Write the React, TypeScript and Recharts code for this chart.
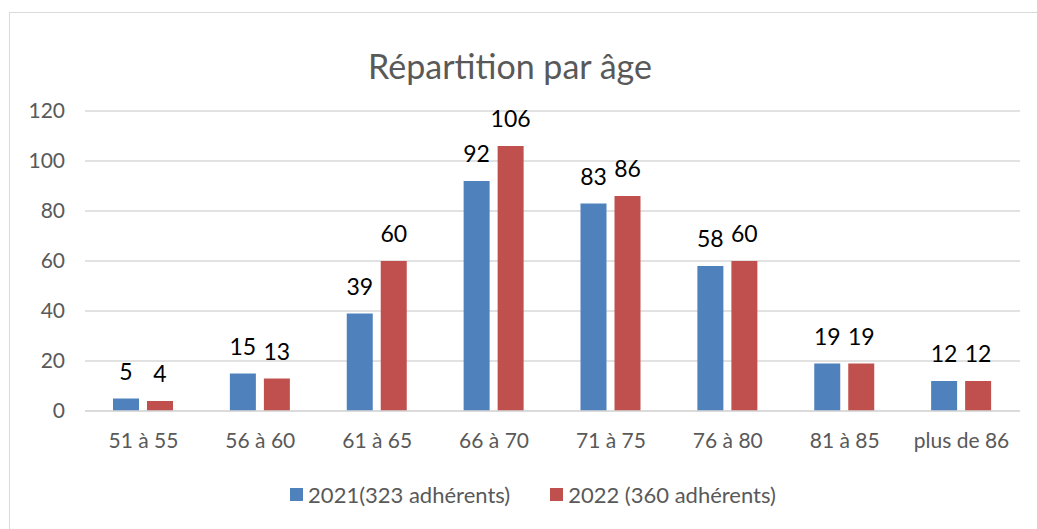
import { BarChart, Bar, XAxis, YAxis, CartesianGrid, Legend, LabelList } from 'recharts';

// Values
const ageGroups = ['51 à 55', '56 à 60', '61 à 65', '66 à 70', '71 à 75', '76 à 80', '81 à 85', 'plus de 86'];
const members2021 = [5, 15, 39, 92, 83, 58, 19, 12];
const members2022 = [4, 13, 60, 106, 86, 60, 19, 12];
const yTicks = [0, 20, 40, 60, 80, 100, 120];

const seriesNames = { a: '2021(323 adhérents)', b: '2022 (360 adhérents)' };
const colors = { a: '#4F81BD', b: '#C0504D' };

const data = ageGroups.map((age, i) => ({
  age,
  a: members2021[i],
  b: members2022[i],
}));

const font = 'Lato, "Open Sans", sans-serif';
const grey = '#595959';

function LegendBox() {
  const items = [
    { key: 'a', label: seriesNames.a, color: colors.a },
    { key: 'b', label: seriesNames.b, color: colors.b },
  ];
  return (
    <div style={{ display: 'flex', justifyContent: 'center', height: 24, alignItems: 'center', paddingLeft: 36 }}>
      {items.map((it, i) => (
        <div key={it.key} style={{ display: 'flex', alignItems: 'center', marginLeft: i ? 40 : 0 }}>
          <span style={{ width: 13, height: 13, background: it.color, display: 'inline-block', marginRight: 5 }} />
          <span style={{ fontFamily: font, fontSize: 22, color: grey }}>{it.label}</span>
        </div>
      ))}
    </div>
  );
}

export default function App() {
  return (
    <div
      style={{
        position: 'absolute',
        left: 9,
        top: 12,
        width: 1040,
        height: 530,
        border: '1px solid #d9d9d9',
        borderRight: 'none',
        background: '#fff',
      }}
    >
      <div
        style={{
          position: 'absolute',
          left: 0,
          width: 1000,
          top: 33,
          textAlign: 'center',
          fontFamily: font,
          fontSize: 34,
          color: grey,
          lineHeight: '40px',
        }}
      >
        Répartition par âge
      </div>
      <BarChart
        width={1030}
        height={510}
        data={data}
        margin={{ top: 98, right: 20, bottom: 17, left: 0 }}
        barSize={26}
        barGap={8}
      >
        <CartesianGrid vertical={false} stroke="#d9d9d9" strokeWidth={1.5} />
        <XAxis
          dataKey="age"
          height={71}
          tickLine={false}
          axisLine={{ stroke: '#d9d9d9', strokeWidth: 1.5 }}
          tickMargin={16}
          tick={{ fill: grey, fontSize: 21, fontFamily: font }}
          interval={0}
        />
        <YAxis
          width={75}
          domain={[0, 120]}
          ticks={yTicks}
          axisLine={false}
          tickLine={false}
          tickMargin={14}
          tick={{ fill: grey, fontSize: 21, fontFamily: font }}
        />
        <Legend verticalAlign="bottom" content={() => <LegendBox />} />
        <Bar dataKey="a" name={seriesNames.a} fill={colors.a} isAnimationActive={false}>
          <LabelList dataKey="a" position="top" offset={19} style={{ fill: '#000', fontSize: 23, fontFamily: font }} />
        </Bar>
        <Bar dataKey="b" name={seriesNames.b} fill={colors.b} isAnimationActive={false}>
          <LabelList dataKey="b" position="top" offset={19} style={{ fill: '#000', fontSize: 23, fontFamily: font }} />
        </Bar>
      </BarChart>
    </div>
  );
}
